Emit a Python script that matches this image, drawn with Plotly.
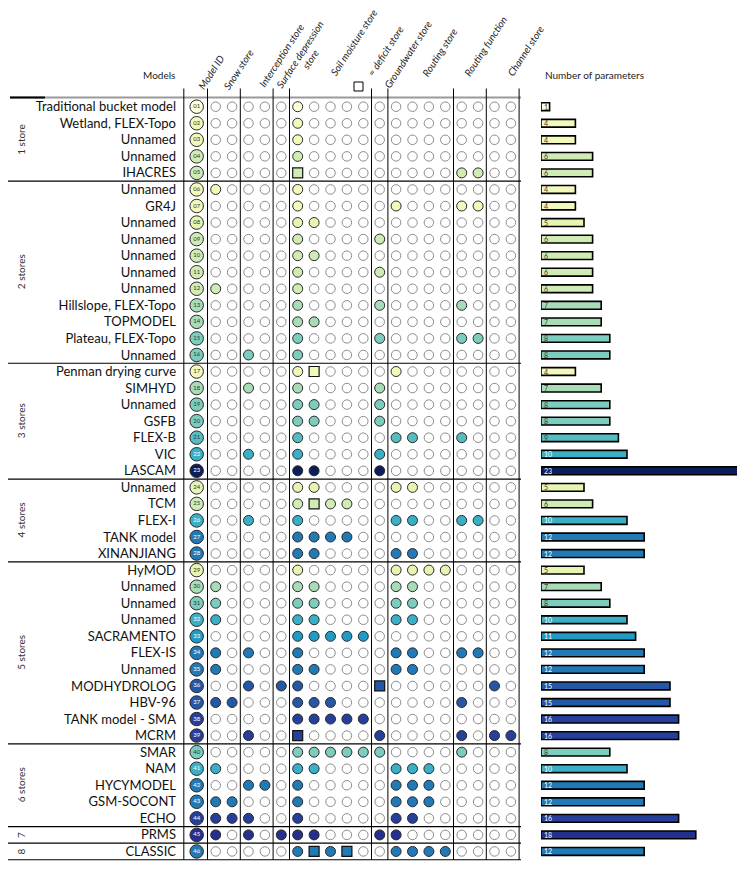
import plotly.graph_objects as go

# the page body adds an 8px margin, so the figure is drawn 8px smaller and
# all reference pixel positions are shifted by OFF
VW, VH = 745, 871
OFF = 8
W, H = VW - OFF, VH - OFF

models = [
    "Traditional bucket model", "Wetland, FLEX-Topo", "Unnamed", "Unnamed", "IHACRES",
    "Unnamed", "GR4J", "Unnamed", "Unnamed", "Unnamed", "Unnamed", "Unnamed",
    "Hillslope, FLEX-Topo", "TOPMODEL", "Plateau, FLEX-Topo", "Unnamed",
    "Penman drying curve", "SIMHYD", "Unnamed", "GSFB", "FLEX-B", "VIC", "LASCAM",
    "Unnamed", "TCM", "FLEX-I", "TANK model", "XINANJIANG",
    "HyMOD", "Unnamed", "Unnamed", "Unnamed", "SACRAMENTO", "FLEX-IS", "Unnamed",
    "MODHYDROLOG", "HBV-96", "TANK model - SMA", "MCRM",
    "SMAR", "NAM", "HYCYMODEL", "GSM-SOCONT", "ECHO",
    "PRMS",
    "CLASSIC",
]
model_ids = ["%02d" % (i + 1) for i in range(len(models))]

n_params = [1, 4, 4, 6, 6,
            4, 4, 5, 6, 6, 6, 6, 7, 7, 8, 8,
            4, 7, 8, 8, 9, 10, 23,
            5, 6, 10, 12, 12,
            5, 7, 8, 10, 11, 12, 12, 15, 15, 16, 16,
            8, 10, 12, 12, 16,
            18,
            12]

store_groups = ["1 store", "2 stores", "3 stores", "4 stores", "5 stores", "6 stores", "7", "8"]
group_sizes = [5, 11, 7, 5, 11, 5, 1, 1]

column_widths = [2, 2, 1, 5, 1, 4, 2, 2]

# 0 = not present, 1 = store, 2 = deficit store
structure = [
    "00|00|0|10000|0|0000|00|00",
    "00|00|0|10000|0|0000|00|00",
    "00|00|0|10000|0|0000|00|00",
    "00|00|0|10000|0|0000|00|00",
    "00|00|0|20000|0|0000|11|00",
    "10|00|0|10000|0|0000|00|00",
    "00|00|0|10000|0|1000|11|00",
    "00|00|0|11000|0|0000|00|00",
    "00|00|0|10000|1|0000|00|00",
    "00|00|0|11000|0|0000|00|00",
    "00|00|0|10000|1|0000|00|00",
    "10|00|0|10000|0|0000|00|00",
    "00|00|0|10000|1|0000|10|00",
    "00|00|0|11000|0|0000|00|00",
    "00|00|0|10000|1|0000|11|00",
    "00|10|0|10000|0|0000|00|00",
    "00|00|0|12000|0|1000|00|00",
    "00|10|0|10000|1|0000|00|00",
    "00|00|0|11000|1|0000|00|00",
    "00|00|0|11000|1|0000|00|00",
    "00|00|0|10000|0|1100|10|00",
    "00|10|0|10000|1|0000|00|00",
    "00|00|0|11000|1|0000|00|00",
    "00|00|0|11000|0|1100|00|00",
    "00|00|0|12110|0|0000|00|00",
    "00|10|0|10000|0|1100|11|00",
    "00|00|0|11110|0|0000|00|00",
    "00|00|0|11000|0|1100|00|00",
    "00|00|0|10000|0|1111|00|00",
    "10|00|0|11000|0|1100|00|00",
    "10|00|0|11000|0|1100|00|00",
    "10|00|0|11000|0|1100|00|00",
    "00|00|0|11111|0|0000|00|00",
    "10|10|0|10000|0|1100|11|00",
    "10|00|0|11000|0|1100|00|00",
    "00|10|1|10000|2|0000|00|10",
    "11|00|0|11100|0|0000|10|00",
    "00|00|0|11111|0|0000|00|00",
    "00|10|0|20000|1|0000|10|11",
    "00|00|0|11111|1|0000|10|00",
    "10|00|0|11000|0|1110|00|00",
    "00|11|0|10000|0|1110|00|00",
    "11|00|0|10000|0|1110|00|00",
    "11|10|0|10000|0|1100|00|00",
    "10|10|1|11000|1|1000|00|00",
    "00|00|0|12120|0|1111|00|00",
]

param_colors = {
    1: "#ffffd9", 4: "#f3f9b9", 5: "#e6f5b2", 6: "#d0ecb4", 7: "#a8dcb7",
    8: "#7ccdbd", 9: "#55bdc2", 10: "#3bafc6", 11: "#229bc3", 12: "#2179b6",
    15: "#2458a7", 16: "#263f9b", 18: "#24308d", 23: "#0b1d5a",
}

FONT = "Lato"


def xp(px):
    return (px - OFF) / W


def yp(py):
    return 1 - (py - OFF) / H


# ---------- geometry of the layout (reference pixels) ----------
row_px0, row_step = 106.7, 16.55      # pixel y of row 1, spacing
col_px0, col_step = 215.7, 16.4       # pixel x of first store column, spacing
grid_left_px, grid_right_px = 183, 521
bar_left_px, bar_unit_px = 541, 8.6
id_x = -1.16

rows = list(range(1, len(models) + 1))
row_colors = [param_colors[n] for n in n_params]
light_text = [n >= 10 for n in n_params]

y_range = [1 + (VH - row_px0) / row_step, 1 + (OFF - row_px0) / row_step]
x_range = [(grid_left_px - col_px0) / col_step, (grid_right_px + 1 - col_px0) / col_step]
x2_range = [0, (VW - bar_left_px) / bar_unit_px]

empty_x, empty_y = [], []
full_x, full_y, full_c = [], [], []
sq_x, sq_y, sq_c = [], [], []
for r, s, c in zip(rows, structure, row_colors):
    cells = s.replace("|", "")
    for j, v in enumerate(cells):
        if v == "0":
            empty_x.append(j); empty_y.append(r)
        elif v == "1":
            full_x.append(j); full_y.append(r); full_c.append(c)
        else:
            sq_x.append(j); sq_y.append(r); sq_c.append(c)

fig = go.Figure()

fig.add_trace(go.Scatter(
    x=empty_x, y=empty_y, mode="markers", hoverinfo="skip",
    marker=dict(size=9.5, color="white", line=dict(color="#8c8c8c", width=1)),
))
fig.add_trace(go.Scatter(
    x=full_x, y=full_y, mode="markers",
    marker=dict(size=10, color=full_c, line=dict(color="#2a2a2a", width=1)),
))
fig.add_trace(go.Scatter(
    x=sq_x, y=sq_y, mode="markers",
    marker=dict(size=10, symbol="square", color=sq_c, line=dict(color="#111", width=1.2)),
))
fig.add_trace(go.Scatter(
    x=[id_x] * len(rows), y=rows, mode="markers+text",
    text=model_ids, textposition="middle center",
    textfont=dict(family=FONT, size=6,
                  color=["white" if lt else "#333" for lt in light_text]),
    marker=dict(size=13.5, color=row_colors, line=dict(color="#2a2a2a", width=1)),
))
fig.add_trace(go.Bar(
    x=n_params, y=rows, orientation="h", xaxis="x2", yaxis="y",
    width=0.47, marker=dict(color=row_colors, line=dict(color="black", width=1.6)),
    text=[str(n) for n in n_params], textposition="inside", insidetextanchor="start",
    constraintext="none", textangle=0,
    textfont=dict(family=FONT, size=7,
                  color=["white" if lt else "#3a3a3a" for lt in light_text]),
))

shapes = []
# horizontal separators between store groups
acc = 0
bounds = []
for g in group_sizes:
    acc += g
    bounds.append(acc + 0.5)
for b in bounds:
    shapes.append(dict(type="line", xref="paper", yref="y", x0=xp(8), x1=xp(grid_right_px),
                       y0=b, y1=b, line=dict(color="black", width=1.2)))
# top header line
shapes.append(dict(type="line", xref="paper", yref="y", x0=xp(10), x1=xp(grid_right_px),
                   y0=0.45, y1=0.45, line=dict(color="#9a9a9a", width=2)))
shapes.append(dict(type="line", xref="paper", yref="y", x0=xp(10), x1=xp(45),
                   y0=0.45, y1=0.45, line=dict(color="black", width=2)))
# vertical separators between store types
vx = [x_range[0] + 0.05, -0.5]
acc = -0.5
for wdt in column_widths:
    acc += wdt
    vx.append(acc)
for v in vx:
    shapes.append(dict(type="line", xref="x", yref="y", x0=v, x1=v, y0=-0.1,
                       y1=bounds[-1], line=dict(color="black", width=1)))
# legend square for deficit store
shapes.append(dict(type="rect", xref="paper", yref="paper",
                   x0=xp(354), x1=xp(363), y0=yp(91), y1=yp(82),
                   line=dict(color="black", width=1), fillcolor="white"))

annotations = []
# store group labels
start = 1
for name, g in zip(store_groups, group_sizes):
    mid = start + (g - 1) / 2
    annotations.append(dict(text=name, xref="paper", yref="y", x=xp(13), y=mid,
                            textangle=-90, showarrow=False,
                            font=dict(family=FONT, size=10, color="#333")))
    start += g

hdr_font = dict(family=FONT, size=10, color="#222")
header_pos = [  # (text, x px, y px) bottom-left of rotated box
    ("<i>Model ID</i>", 193, 94),
    ("<i>Snow store</i>", 218, 94),
    ("<i>Interception store</i>", 254, 92),
    ("<i>Surface depression</i>", 271, 93),
    ("<i>store</i>", 297, 74),
    ("<i>Soil moisture store</i>", 325, 80),
    ("<i>= deficit store</i>", 362, 81),
    ("<i>Groundwater store</i>", 379, 93),
    ("<i>Routing store</i>", 417, 81),
    ("<i>Routing function</i>", 459, 81),
    ("<i>Channel store</i>", 502, 81),
]
for t, px, py in header_pos:
    annotations.append(dict(text=t, xref="paper", yref="paper", x=xp(px), y=yp(py),
                            xanchor="left", yanchor="bottom", textangle=-57,
                            showarrow=False, font=hdr_font))
annotations.append(dict(text="Models", xref="paper", yref="paper", x=xp(177), y=yp(75),
                        xanchor="right", yanchor="middle", showarrow=False,
                        font=dict(family=FONT, size=10, color="#222")))
annotations.append(dict(text="Number of parameters", xref="paper", yref="paper",
                        x=xp(543), y=yp(75), xanchor="left", yanchor="middle",
                        showarrow=False, font=dict(family=FONT, size=10, color="#222")))

fig.update_layout(
    width=W, height=H, margin=dict(l=0, r=0, t=0, b=0),
    paper_bgcolor="white", plot_bgcolor="rgba(0,0,0,0)",
    showlegend=False, shapes=shapes, annotations=annotations,
    xaxis=dict(domain=[xp(grid_left_px), xp(grid_right_px + 1)], range=x_range,
               visible=False, fixedrange=True),
    xaxis2=dict(domain=[xp(bar_left_px), 1.0], range=x2_range, visible=False,
                anchor="y"),
    yaxis=dict(domain=[0, 1], range=y_range, showgrid=False, zeroline=False,
               showline=False, tickmode="array", tickvals=rows, ticktext=models,
               ticks="", ticklabelstandoff=6,
               tickfont=dict(family=FONT, size=13, color="#111")),
)

fig.write_html("out.html")
